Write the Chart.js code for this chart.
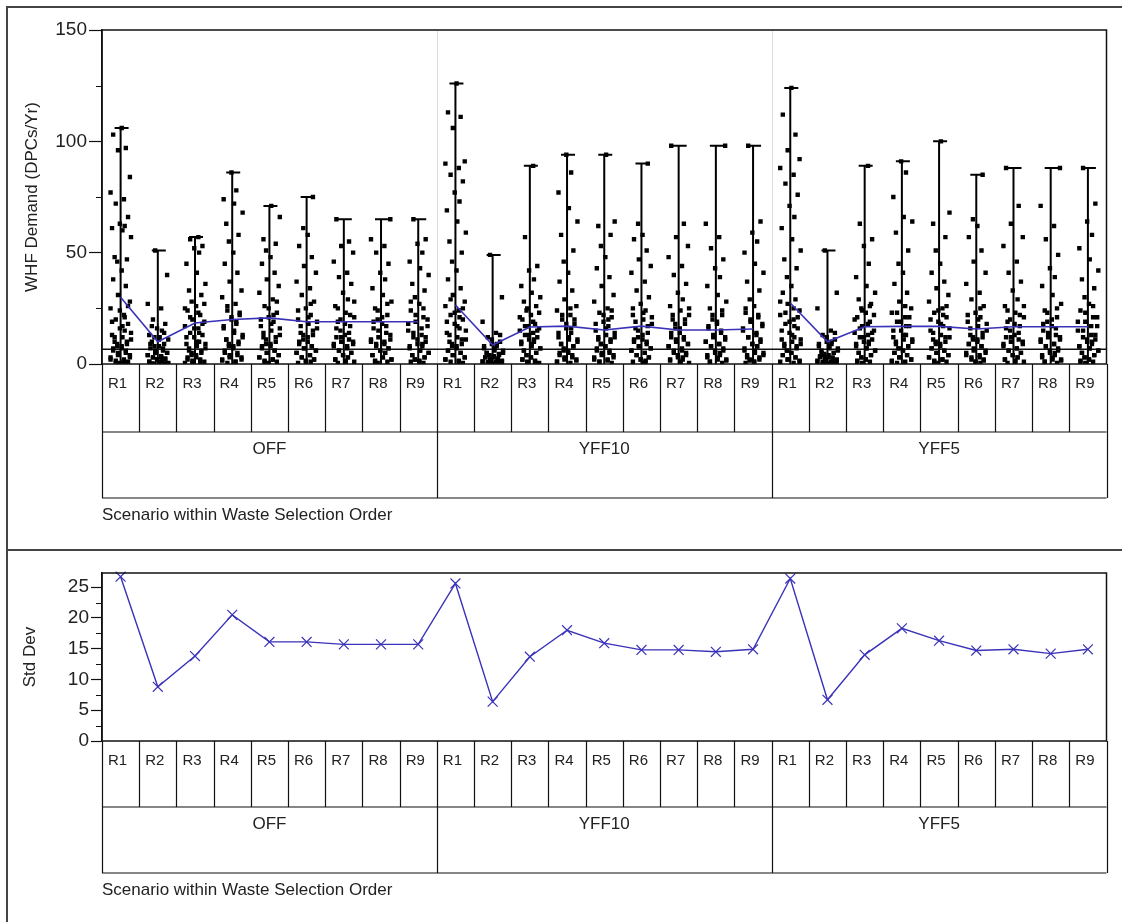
<!DOCTYPE html>
<html>
<head>
<meta charset="utf-8">
<script src="https://cdn.jsdelivr.net/npm/chart.js@4.4.1/dist/chart.umd.min.js"></script>
<style>
  html, body { margin: 0; padding: 0; background: #fff; }
  #page { position: relative; width: 1122px; height: 922px; overflow: hidden; background: #fff; }
  .rule { position: absolute; background: #444; }
  #top { position: absolute; left: 8px; top: 9px; width: 1114px; height: 540px; }
  #bottom { position: absolute; left: 8px; top: 552px; width: 1114px; height: 370px; }
</style>
</head>
<body>
<div id="page">
  <div class="rule" style="left:6px;top:6px;width:1116px;height:2px"></div>
  <div class="rule" style="left:6px;top:6px;width:2px;height:916px"></div>
  <div class="rule" style="left:6px;top:549px;width:1116px;height:2px"></div>
  <div id="top"><canvas id="demandChart"></canvas></div>
  <div id="bottom"><canvas id="stdChart"></canvas></div>
</div>
<script>
// Categories
const GROUPS = ["OFF", "YFF10", "YFF5"];
const SCENARIOS = ["R1", "R2", "R3", "R4", "R5", "R6", "R7", "R8", "R9"];

// WHF demand samples, one list per scenario
const OFF_DEMAND = [
  [106,103,97,96,84,77,74,72,66,63,62,61,60,57,48,47,46,42,38,35,31,28,25,22,20,18,16,15,13,12,11,10,9,8,7,6,5,4,3,2,1,0.5,
   26,24,21,19,17,14,12,10,9,8,7,6,5,4,3,2,1.5,1,0.5,0.2],
  [51,40,27,25,20,18,16,15,13,12,11,10,9,8,8,7,6,5,5,4,3,3,2,2,1,1,0.5,0,
   17,14,12,11,9,7,6,5,4,3.5,3,2.5,2,1.5,1,0.8,0.5,0.3,0.2,0.1],
  [57,56,53,52,50,45,41,36,33,31,28,26,24,22,20,19,17,16,14,13,12,10,9,8,7,6,5,4,3,2,1,0.5,
   27,25,23,21,18,16,14,12,10,9,7,6,5,4,3,2,1.5,1,0.5],
  [86,78,74,72,68,63,58,55,50,45,41,37,33,30,27,24,22,20,18,16,14,12,11,10,9,8,6,5,4,3,2,1,
   26,23,21,19,17,15,13,11,9,8,7,5,4,3,2,1.5,1,0.5],
  [71,66,56,54,51,48,45,41,38,35,32,29,26,23,21,19,17,15,13,12,10,9,8,7,6,5,4,3,2,1,
   28,25,22,20,18,16,14,12,11,9,8,6,5,4,3,2,1.5,1,0.5],
  [75,61,58,53,48,44,41,37,34,31,28,25,22,20,18,16,14,13,11,10,9,8,7,6,5,4,3,2,1,
   27,24,21,19,17,15,13,12,10,8,7,6,5,4,3,2,1.5,1,0.5],
  [65,55,53,50,46,41,39,36,32,29,26,23,21,19,17,15,13,12,11,10,9,8,7,6,5,4,3,2,1,
   28,25,22,20,18,16,14,12,10,9,8,6,5,4,3,2,1.5,1,0.5],
  [65,56,53,50,45,41,38,34,31,28,25,22,20,18,16,14,12,11,10,9,8,7,6,5,4,3,2,1,
   27,24,21,19,17,15,13,11,10,9,7,6,5,4,3,2,1.5,1,0.5],
  [65,56,54,50,46,43,40,36,33,30,27,24,21,19,17,15,13,12,10,9,8,7,6,5,4,3,2,1,
   28,25,22,20,18,16,14,12,11,9,8,6,5,4,3,2,1.5,1,0.5]
];
const YFF10_DEMAND = [
  [126,113,111,106,91,90,88,85,82,77,73,69,64,59,55,50,46,42,38,34,31,28,26,24,22,20,18,16,14,12,11,10,9,8,7,6,5,4,3,2,1,
   29,25,23,21,19,17,15,13,11,9,8,6,5,4,3,2,1.5,1,0.5],
  [49,30,19,14,12,10,9,8,7,6,5,5,4,4,3,3,2,2,1,1,0.5,0,
   13,11,9,8,7,6,5,4.5,4,3.5,3,2.5,2,1.5,1.2,1,0.8,0.5,0.3,0.1],
  [89,57,44,42,38,35,32,30,28,26,24,22,20,18,17,16,15,14,13,12,11,10,9,8,7,6,5,4,3,2,1,
   25,23,21,19,17,15,13,11,10,9,7,6,5,4,3,2,1.5,1,0.5],
  [94,86,77,70,64,58,51,46,41,37,33,29,26,24,22,20,18,16,14,12,11,10,9,8,7,6,5,4,3,2,1,
   25,22,20,18,16,14,12,11,9,8,6,5,4,3,2,1.5,1,0.5],
  [94,64,62,58,53,48,43,39,35,31,28,25,23,21,19,17,15,13,12,11,10,9,8,7,6,5,4,3,2,1,
   24,22,20,18,16,14,12,11,9,8,6,5,4,3,2,1.5,1,0.5],
  [90,63,58,56,51,47,44,41,37,33,30,27,24,22,20,18,16,14,12,11,10,9,8,7,6,5,4,3,2,1,
   25,23,21,19,17,15,13,11,10,8,7,6,5,4,3,2,1.5,1,0.5],
  [98,63,57,53,48,44,40,36,32,29,26,24,22,20,18,16,14,12,11,10,9,8,7,6,5,4,3,2,1,
   25,22,20,18,16,14,12,11,9,8,6,5,4,3,2,1.5,1,0.5],
  [98,63,57,52,47,43,39,35,31,28,25,22,20,18,16,14,12,11,10,9,8,7,6,5,4,3,2,1,
   24,22,19,17,15,13,12,10,9,8,6,5,4,3,2,1.5,1,0.5],
  [98,64,59,55,50,45,41,37,33,29,26,23,21,19,17,15,13,12,10,9,8,7,6,5,4,3,2,1,
   25,22,20,18,16,14,12,11,9,8,6,5,4,3,2,1.5,1,0.5]
];
const YFF5_DEMAND = [
  [124,112,103,96,92,88,85,81,76,71,66,61,56,51,47,43,39,35,32,29,27,24,22,20,18,16,14,12,11,10,9,8,7,6,5,4,3,2,1,
   28,25,23,21,19,17,15,13,11,9,8,6,5,4,3,2,1.5,1,0.5],
  [51,32,25,15,13,11,10,9,8,7,6,5,5,4,3,3,2,2,1,1,0.5,0,
   14,12,10,9,8,7,6,5,4.5,4,3.5,3,2.5,2,1.5,1,0.8,0.5,0.3,0.1],
  [89,63,56,53,45,39,35,32,29,27,25,23,21,19,17,15,14,13,12,11,10,9,8,7,6,5,4,3,2,1,
   26,24,22,20,18,16,14,12,10,9,7,6,5,4,3,2,1.5,1,0.5],
  [91,86,75,66,64,59,51,45,41,36,32,28,25,23,21,19,17,15,13,12,11,10,9,8,7,6,5,4,3,2,1,
   26,23,21,19,17,15,13,11,10,8,7,6,5,4,3,2,1.5,1,0.5],
  [100,68,63,57,51,45,41,37,34,31,28,25,23,21,19,17,15,13,12,11,10,9,8,7,6,5,4,3,2,1,
   26,24,22,20,18,16,14,12,10,9,7,6,5,4,3,2,1.5,1,0.5],
  [85,65,62,57,51,46,41,36,32,29,26,23,21,19,17,15,13,12,11,10,9,8,7,6,5,4,3,2,1,
   25,22,20,18,16,14,12,11,9,8,6,5,4,3,2,1.5,1,0.5],
  [88,71,63,57,53,46,41,37,33,29,26,23,21,19,17,15,13,12,11,10,9,8,7,6,5,4,3,2,1,
   26,24,22,20,18,16,14,12,10,9,7,6,5,4,3,2,1.5,1,0.5],
  [88,71,62,56,49,43,39,35,31,27,24,21,19,17,15,13,12,11,10,9,8,7,6,5,4,3,2,1,
   25,23,20,18,16,14,12,11,9,8,6,5,4,3,2,1.5,1,0.5],
  [88,72,64,58,52,47,42,38,34,30,27,24,21,19,17,15,13,12,11,10,9,8,7,6,5,4,3,2,1,
   26,23,21,19,17,15,13,11,10,8,7,6,5,4,3,2,1.5,1,0.5]
];

// Group means (blue line) and std devs (lower panel)
const OFF_MEAN   = [30, 10, 18.4, 20, 20.7, 19, 19, 19, 19];
const YFF10_MEAN = [26.5, 8.5, 16.6, 17, 15.3, 17, 15.3, 15.3, 15.7];
const YFF5_MEAN  = [27.4, 10, 16.7, 16.9, 16.9, 15.7, 16.7, 16.7, 16.7];
const OFF_STD    = [26.7, 8.8, 13.8, 20.5, 16.1, 16.1, 15.7, 15.7, 15.7];
const YFF10_STD  = [25.6, 6.4, 13.7, 18.0, 15.9, 14.8, 14.8, 14.5, 14.9];
const YFF5_STD   = [26.4, 6.7, 14.0, 18.3, 16.3, 14.7, 14.9, 14.2, 14.9];
const REF_LEVEL = 6.6;

// horizontal jitter pattern (fraction of a column)
const JITTER = [0.03, -0.2, 0.14, -0.07, 0.25, -0.27, 0.09, -0.13, 0.2, -0.02, 0.11, -0.23, 0.05, 0.28, -0.16, 0.17, -0.09];

const BLUE = "#3a32b8";
const FONT = '"Liberation Sans", Arial, sans-serif';
Chart.defaults.font.family = FONT;
Chart.defaults.color = "#222";

const DEMAND = [OFF_DEMAND, YFF10_DEMAND, YFF5_DEMAND];
const MEANS = [OFF_MEAN, YFF10_MEAN, YFF5_MEAN];
const STDS = [OFF_STD, YFF10_STD, YFF5_STD];
const N = GROUPS.length * SCENARIOS.length;

const points = [];
DEMAND.forEach((grp, g) => grp.forEach((vals, s) => vals.forEach((v, k) => {
  points.push({ x: g * 9 + s + JITTER[(k + s * 3) % JITTER.length], y: v });
})));

const meanData = [];
MEANS.forEach((m, g) => {
  m.forEach((v, s) => meanData.push({ x: g * 9 + s, y: v }));
  meanData.push({ x: g * 9 + 8.5, y: null });
});

const stdData = [];
STDS.forEach((m, g) => m.forEach((v, s) => stdData.push({ x: g * 9 + s, y: v })));

const maxes = [];
DEMAND.forEach((grp, g) => grp.forEach((vals, s) => maxes.push({ x: g * 9 + s, y: Math.max(...vals) })));

// Draws the plot frame, minor ticks, nested category table and x title
const framePlugin = {
  id: "frame",
  beforeDatasetsDraw(chart, args, opts) {
    const { ctx, chartArea: a, scales: { x, y } } = chart;
    ctx.save();
    if (opts.groupLines) {
      ctx.strokeStyle = "#dcdcdc";
      ctx.lineWidth = 1;
      [9, 18].forEach(i => {
        const px = Math.round(x.getPixelForValue(i - 0.5)) + 0.5;
        ctx.beginPath(); ctx.moveTo(px, a.top); ctx.lineTo(px, a.bottom); ctx.stroke();
      });
    }
    if (opts.whiskers) {
      ctx.strokeStyle = "#000";
      ctx.lineWidth = 2;
      opts.whiskers.forEach(m => {
        const px = x.getPixelForValue(m.x);
        const top = y.getPixelForValue(m.y);
        ctx.beginPath();
        ctx.moveTo(px, y.getPixelForValue(0)); ctx.lineTo(px, top);
        ctx.moveTo(px - 6, top); ctx.lineTo(px + 8, top);
        ctx.stroke();
      });
    }
    ctx.restore();
  },
  afterDraw(chart, args, opts) {
    const { ctx, chartArea: a, scales: { x, y } } = chart;
    const r1 = a.bottom + opts.rows[0];
    const r2 = r1 + opts.rows[1];
    ctx.save();
    ctx.strokeStyle = "#111";
    ctx.lineWidth = 1.5;
    ctx.strokeRect(a.left, a.top, a.right - a.left, a.bottom - a.top);

    // minor ticks
    ctx.lineWidth = 1;
    opts.minor.forEach(v => {
      const py = Math.round(y.getPixelForValue(v)) + 0.5;
      ctx.beginPath(); ctx.moveTo(a.left - 6, py); ctx.lineTo(a.left, py); ctx.stroke();
    });

    // category table
    ctx.lineWidth = 1.2;
    ctx.beginPath();
    ctx.moveTo(a.left, r1); ctx.lineTo(a.right, r1);
    ctx.moveTo(a.left, r2); ctx.lineTo(a.right, r2);
    for (let i = 0; i <= N; i++) {
      const px = Math.round(x.getPixelForValue(i - 0.5)) + 0.5;
      const grpEdge = i % 9 === 0;
      ctx.moveTo(px, a.bottom); ctx.lineTo(px, grpEdge ? r2 : r1);
    }
    ctx.stroke();

    ctx.fillStyle = "#222";
    ctx.textBaseline = "middle";
    ctx.font = "15px " + FONT;
    ctx.textAlign = "left";
    for (let i = 0; i < N; i++) {
      const px = x.getPixelForValue(i - 0.5);
      ctx.fillText(SCENARIOS[i % 9], px + 6, a.bottom + 20);
    }
    ctx.font = "17px " + FONT;
    ctx.textAlign = "center";
    GROUPS.forEach((g, gi) => {
      const cx = (x.getPixelForValue(gi * 9 - 0.5) + x.getPixelForValue(gi * 9 + 8.5)) / 2;
      ctx.fillText(g, cx, r1 + 17);
    });
    ctx.textAlign = "left";
    ctx.fillText("Scenario within Waste Selection Order", a.left, r2 + 17);
    ctx.restore();
  }
};

function yAxis(opts) {
  return {
    type: "linear",
    min: opts.min, max: opts.max,
    afterFit(axis) { axis.width = 94; },
    border: { display: true, color: "#111", width: 1.5 },
    grid: { drawOnChartArea: false, drawTicks: true, tickLength: opts.tickLength, color: "#111", tickWidth: 1.2 },
    ticks: { stepSize: opts.step, includeBounds: false, padding: 2, font: { size: 19 }, color: "#222" },
    title: { display: true, text: opts.title, font: { size: 17 }, color: "#222", padding: { top: opts.titlePad, bottom: 0 } }
  };
}

const xAxis = { type: "linear", min: -0.5, max: N - 0.5, display: false };

new Chart(document.getElementById("demandChart"), {
  type: "line",
  data: {
    datasets: [
      { data: [{ x: -0.5, y: REF_LEVEL }, { x: N - 0.5, y: REF_LEVEL }], borderColor: "#111", borderWidth: 1.5, pointRadius: 0, order: 3 },
      { data: points, showLine: false, pointStyle: "rect", pointRadius: 3.1, pointBorderWidth: 0, backgroundColor: "#000", borderColor: "#000", order: 2 },
      { data: meanData, borderColor: BLUE, borderWidth: 1.6, pointRadius: 0, spanGaps: false, order: 1 }
    ]
  },
  options: {
    responsive: true,
    maintainAspectRatio: false,
    animation: false,
    layout: { padding: { left: 0, top: 21, right: 15.5, bottom: 185 } },
    plugins: {
      legend: { display: false },
      tooltip: { enabled: false },
      frame: { rows: [68, 66], minor: [25, 75, 125], groupLines: true, whiskers: maxes }
    },
    scales: {
      x: xAxis,
      y: yAxis({ min: 0, max: 150, step: 50, tickLength: 13, title: "WHF Demand (DPCs/Yr)", titlePad: 14 })
    }
  },
  plugins: [framePlugin]
});

new Chart(document.getElementById("stdChart"), {
  type: "line",
  data: {
    datasets: [
      { data: stdData, borderColor: BLUE, borderWidth: 1.4, pointStyle: "crossRot", pointRadius: 7,
        pointBorderWidth: 1.2, pointBorderColor: BLUE, clip: false }
    ]
  },
  options: {
    responsive: true,
    maintainAspectRatio: false,
    animation: false,
    layout: { padding: { left: 0, top: 21, right: 15.5, bottom: 181 } },
    plugins: {
      legend: { display: false },
      tooltip: { enabled: false },
      frame: { rows: [66, 66], minor: [2.5, 7.5, 12.5, 17.5, 22.5], groupLines: false }
    },
    scales: {
      x: xAxis,
      y: yAxis({ min: 0, max: 27.3, step: 5, tickLength: 11, title: "Std Dev", titlePad: 12 })
    }
  },
  plugins: [framePlugin]
});
</script>
</body>
</html>
